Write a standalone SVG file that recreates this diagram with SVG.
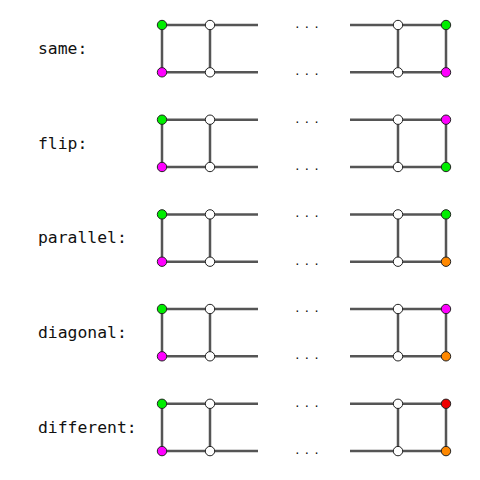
<svg xmlns="http://www.w3.org/2000/svg" width="480" height="480" viewBox="0 0 480 480">
<style>
.e{stroke:#555;stroke-width:2.5;fill:none}
.n{stroke:#222;stroke-width:1}
.w{fill:#fff}.g{fill:#00ee00}.m{fill:#ff00ff}.o{fill:#ff8800}.r{fill:#ee0000}
.lb{font-family:"DejaVu Sans Mono","Liberation Mono",monospace;font-size:16.4px;fill:#111}
.d{font-family:"DejaVu Sans Mono",monospace;font-size:11px;fill:#111;letter-spacing:3px}
</style>
<defs>
<g id="edges">
<path class="e" d="M162,0H258M162,47.3H258M162,0V47.3M210,0V47.3M350,0H446M350,47.3H446M398,0V47.3M446,0V47.3"/>
<text class="d" x="294" y="3">...</text>
<text class="d" x="294" y="50.3">...</text>
</g>
</defs>
<g id="connectors">
<use href="#edges" y="25"/>
<use href="#edges" y="119.7"/>
<use href="#edges" y="214.4"/>
<use href="#edges" y="309"/>
<use href="#edges" y="403.8"/>
</g>
<g id="row-same">
<text class="lb" x="38" y="54">same:</text>
<circle class="n g" cx="162" cy="25" r="4.7"/><circle class="n m" cx="162" cy="72.3" r="4.7"/>
<circle class="n w" cx="210" cy="25" r="4.7"/><circle class="n w" cx="210" cy="72.3" r="4.7"/>
<circle class="n w" cx="398" cy="25" r="4.7"/><circle class="n w" cx="398" cy="72.3" r="4.7"/>
<circle class="n g" cx="446" cy="25" r="4.7"/><circle class="n m" cx="446" cy="72.3" r="4.7"/>
</g>
<g id="row-flip">
<text class="lb" x="38" y="148.7">flip:</text>
<circle class="n g" cx="162" cy="119.7" r="4.7"/><circle class="n m" cx="162" cy="167" r="4.7"/>
<circle class="n w" cx="210" cy="119.7" r="4.7"/><circle class="n w" cx="210" cy="167" r="4.7"/>
<circle class="n w" cx="398" cy="119.7" r="4.7"/><circle class="n w" cx="398" cy="167" r="4.7"/>
<circle class="n m" cx="446" cy="119.7" r="4.7"/><circle class="n g" cx="446" cy="167" r="4.7"/>
</g>
<g id="row-parallel">
<text class="lb" x="38" y="243.4">parallel:</text>
<circle class="n g" cx="162" cy="214.4" r="4.7"/><circle class="n m" cx="162" cy="261.7" r="4.7"/>
<circle class="n w" cx="210" cy="214.4" r="4.7"/><circle class="n w" cx="210" cy="261.7" r="4.7"/>
<circle class="n w" cx="398" cy="214.4" r="4.7"/><circle class="n w" cx="398" cy="261.7" r="4.7"/>
<circle class="n g" cx="446" cy="214.4" r="4.7"/><circle class="n o" cx="446" cy="261.7" r="4.7"/>
</g>
<g id="row-diagonal">
<text class="lb" x="38" y="338">diagonal:</text>
<circle class="n g" cx="162" cy="309" r="4.7"/><circle class="n m" cx="162" cy="356.3" r="4.7"/>
<circle class="n w" cx="210" cy="309" r="4.7"/><circle class="n w" cx="210" cy="356.3" r="4.7"/>
<circle class="n w" cx="398" cy="309" r="4.7"/><circle class="n w" cx="398" cy="356.3" r="4.7"/>
<circle class="n m" cx="446" cy="309" r="4.7"/><circle class="n o" cx="446" cy="356.3" r="4.7"/>
</g>
<g id="row-different">
<text class="lb" x="38" y="432.8">different:</text>
<circle class="n g" cx="162" cy="403.8" r="4.7"/><circle class="n m" cx="162" cy="451.1" r="4.7"/>
<circle class="n w" cx="210" cy="403.8" r="4.7"/><circle class="n w" cx="210" cy="451.1" r="4.7"/>
<circle class="n w" cx="398" cy="403.8" r="4.7"/><circle class="n w" cx="398" cy="451.1" r="4.7"/>
<circle class="n r" cx="446" cy="403.8" r="4.7"/><circle class="n o" cx="446" cy="451.1" r="4.7"/>
</g>
</svg>
